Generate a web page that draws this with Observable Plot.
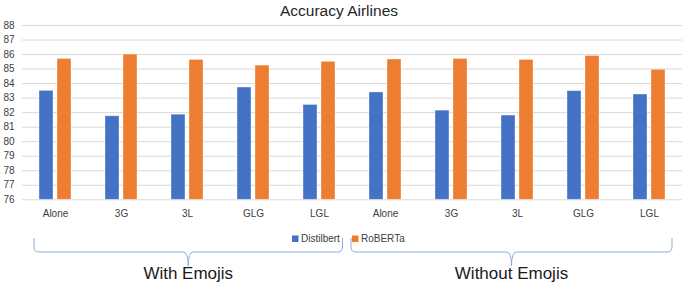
<!DOCTYPE html>
<html>
<head>
<meta charset="utf-8">
<script src="https://cdn.jsdelivr.net/npm/d3@7"></script>
<script src="https://cdn.jsdelivr.net/npm/@observablehq/plot@0.6"></script>
<style>
  html, body { margin: 0; padding: 0; background: white; }
</style>
</head>
<body>
<div id="chart"></div>
<script>
const title = "Accuracy Airlines";
const groups = ["With Emojis", "Without Emojis"];
const categories = ["Alone", "3G", "3L", "GLG", "LGL"];
const models = ["Distilbert", "RoBERTa"];
const colors = ["#4472c4", "#ed7d31"];
const distilbert = [83.5, 81.75, 81.86, 83.73, 82.53, 83.39, 82.14, 81.8, 83.48, 83.25];
const roberta = [85.7, 86.0, 85.63, 85.24, 85.5, 85.66, 85.7, 85.63, 85.9, 84.95];
const yTicks = [76, 77, 78, 79, 80, 81, 82, 83, 84, 85, 86, 87, 88];
const yMin = 76, yMax = 88;

const ids = [];
groups.forEach((g, gi) => categories.forEach(c => ids.push(gi + "|" + c)));
const rows = [];
ids.forEach((id, i) => {
  rows.push({id, model: models[0], value: distilbert[i]});
  rows.push({id, model: models[1], value: roberta[i]});
});

const W = 685, H = 284;
const plot = Plot.plot({
  width: W,
  height: H,
  marginTop: 25,
  marginBottom: 84.7,
  marginLeft: 19,
  marginRight: 0,
  style: {fontFamily: "'Liberation Sans', Arial, sans-serif", fontSize: "10px", color: "#404040", background: "white", overflow: "visible"},
  facet: {data: rows, x: "id", marginBottom: 84.7},
  fx: {domain: ids, padding: 0, label: null, axis: "bottom", tickSize: 0, tickPadding: 10, tickFormat: id => id.split("|")[1]},
  x: {domain: models, paddingInner: 0.21, paddingOuter: 0.86, axis: null},
  y: {domain: [yMin, yMax], ticks: yTicks, tickSize: 0, tickPadding: 8, label: null, tickFormat: d => String(d)},
  color: {domain: models, range: colors},
  marks: [
    Plot.ruleY(yTicks, {stroke: "#d9d9d9", strokeWidth: 1}),
    Plot.barY(rows, {x: "model", y1: d => yMin, y2: "value", fill: "model", stroke: "white", strokeOpacity: 0.45, strokeWidth: 0.8})
  ]
});

document.getElementById("chart").appendChild(plot);

const svg = d3.select(plot);

const fxs = plot.scale("fx");
const band = d3.scaleBand().domain(fxs.domain).range(fxs.range).padding(0);
const bw = band.bandwidth();

const font = "'Liberation Sans', Arial, sans-serif";

// Title
svg.append("text")
  .attr("x", 339).attr("y", 16)
  .attr("text-anchor", "middle")
  .attr("font-family", font)
  .attr("font-size", 15.5)
  .attr("fill", "#262626")
  .text(title);

// Legend
const legend = [{x: 292, label: models[0], color: colors[0]}, {x: 352, label: models[1], color: colors[1]}];
legend.forEach(l => {
  svg.append("rect").attr("x", l.x).attr("y", 235.5).attr("width", 6.5).attr("height", 6.5).attr("fill", l.color);
  svg.append("text").attr("x", l.x + 9).attr("y", 242.3)
    .attr("text-anchor", "start")
    .attr("font-family", font)
    .attr("font-size", 10).attr("fill", "#404040").text(l.label);
});

// Braces
const braces = [
  {x0: band(ids[0]) + 15, x1: band(ids[4]) + bw - 9.5, label: groups[0]},
  {x0: band(ids[5]) - 1, x1: band(ids[9]) + bw - 13, label: groups[1]}
];
braces.forEach(b => {
  const m = (b.x0 + b.x1) / 2;
  const yTop = 238, yH = 252, yTip = 266, r = 5;
  const p = `M${b.x0},${yTop} L${b.x0},${yH - r} Q${b.x0},${yH} ${b.x0 + r},${yH} L${m - r},${yH} Q${m},${yH} ${m},${yTip} Q${m},${yH} ${m + r},${yH} L${b.x1 - r},${yH} Q${b.x1},${yH} ${b.x1},${yH - r} L${b.x1},${yTop}`;
  svg.append("path").attr("d", p).attr("fill", "none").attr("stroke", "#8faadc").attr("stroke-width", 1);
  svg.append("text").attr("x", m).attr("y", 279)
    .attr("text-anchor", "middle")
    .attr("font-family", font)
    .attr("font-size", 17).attr("fill", "#1a1a1a").text(b.label);
});
</script>
</body>
</html>
